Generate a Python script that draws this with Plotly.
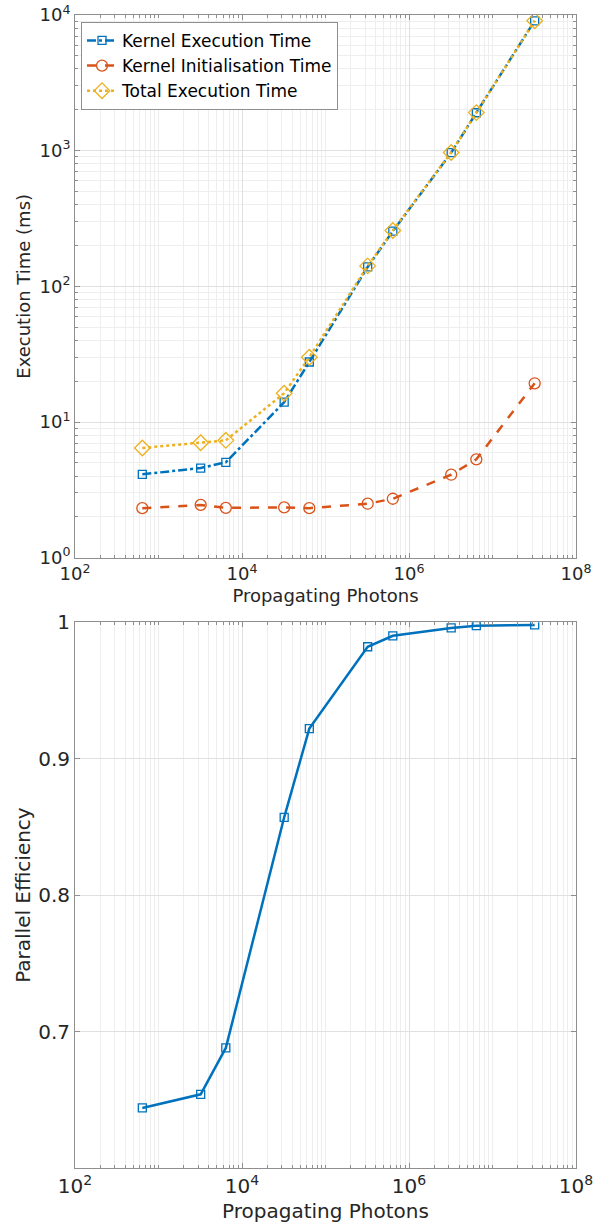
import plotly.graph_objects as go

# ---------------- data ----------------
photons = [640, 3200, 6400, 32000, 64000, 320000, 640000, 3200000, 6400000, 32000000]
kernel_exec_ms = [4.12, 4.58, 5.05, 14.0, 27.7, 139, 255, 966, 1903, 9060]
kernel_init_ms = [2.32, 2.45, 2.33, 2.35, 2.32, 2.50, 2.72, 4.09, 5.31, 19.3]
total_exec_ms = [6.44, 7.04, 7.33, 16.3, 30.0, 141.5, 258, 970, 1908, 9080]
parallel_eff = [0.644, 0.654, 0.688, 0.857, 0.922, 0.982, 0.990, 0.9958, 0.9974, 0.998]

x_major = [1e2, 1e4, 1e6, 1e8]
x_major_text = ["10<sup>2</sup>", "10<sup>4</sup>", "10<sup>6</sup>", "10<sup>8</sup>"]
y1_major = [1, 10, 100, 1000, 10000]
y1_major_text = ["10<sup>0</sup>", "10<sup>1</sup>", "10<sup>2</sup>", "10<sup>3</sup>", "10<sup>4</sup>"]
y2_major = [0.7, 0.8, 0.9, 1.0]
y2_major_text = ["0.7", "0.8", "0.9", "1"]

BLUE = "#0072BD"
ORANGE = "#D95319"
YELLOW = "#EDB120"
FONT = "DejaVu Sans"
TXT = "#262626"
AXC = "#8f8f8f"
GRID = "#e0e0e0"
MGRID = "#eeeeee"


def minor_vals(lo_exp, hi_exp):
    vals = []
    for e in range(lo_exp, hi_exp):
        for m in range(1, 10):
            vals.append(m * 10 ** e)
    vals.append(10 ** hi_exp)
    return vals


fig = go.Figure()

fig.add_trace(go.Scatter(
    x=photons, y=kernel_exec_ms, name="Kernel Execution Time",
    mode="lines+markers", xaxis="x", yaxis="y",
    line=dict(color=BLUE, width=2.5, dash="dashdot"),
    marker=dict(symbol="square-open", size=8, color=BLUE, line=dict(width=1.3)),
))
fig.add_trace(go.Scatter(
    x=photons, y=kernel_init_ms, name="Kernel Initialisation Time",
    mode="lines+markers", xaxis="x", yaxis="y",
    line=dict(color=ORANGE, width=2.5, dash="dash"),
    marker=dict(symbol="circle-open", size=11, color=ORANGE, line=dict(width=1.3)),
))
fig.add_trace(go.Scatter(
    x=photons, y=total_exec_ms, name="Total Execution Time",
    mode="lines+markers", xaxis="x", yaxis="y",
    line=dict(color=YELLOW, width=2.5, dash="dot"),
    marker=dict(symbol="diamond-open", size=12, color=YELLOW, line=dict(width=1.3)),
))
fig.add_trace(go.Scatter(
    x=photons, y=parallel_eff, name="Parallel Efficiency",
    mode="lines+markers", xaxis="x2", yaxis="y2", showlegend=False,
    line=dict(color=BLUE, width=2.5),
    marker=dict(symbol="square-open", size=8, color=BLUE, line=dict(width=1.3)),
))

common_axis = dict(
    showline=True, linecolor=AXC, linewidth=1, mirror="ticks",
    ticks="inside", ticklen=5, tickcolor=AXC, tickwidth=1,
    zeroline=False, showgrid=True, gridcolor=GRID, gridwidth=1,
    automargin=False, ticklabeloverflow="allow",
)

xlog_minor = dict(tickmode="array", tickvals=minor_vals(2, 8), ticks="inside",
                  ticklen=3, tickcolor=AXC, showgrid=True, gridcolor=MGRID, gridwidth=1)
ylog_minor = dict(tickmode="array", tickvals=minor_vals(0, 4), ticks="inside",
                  ticklen=3, tickcolor=AXC, showgrid=True, gridcolor=MGRID, gridwidth=1)

TOP_FS = 18
BOT_FS = 20

fig.update_layout(
    width=602, height=1229,
    margin=dict(l=75, r=26, t=15, b=61),
    paper_bgcolor="white", plot_bgcolor="white",
    font=dict(family=FONT, color=TXT),
    xaxis=dict(
        **common_axis, type="log", range=[2, 8], domain=[0, 1], anchor="y",
        tickmode="array", tickvals=x_major, ticktext=x_major_text,
        tickfont=dict(family=FONT, size=TOP_FS, color=TXT),
        minor=xlog_minor,
        title=dict(text="Propagating Photons", font=dict(family=FONT, size=TOP_FS, color=TXT), standoff=6),
    ),
    yaxis=dict(
        **common_axis, type="log", range=[0, 4], domain=[0.5293, 1.0], anchor="x",
        tickmode="array", tickvals=y1_major, ticktext=y1_major_text,
        tickfont=dict(family=FONT, size=TOP_FS, color=TXT),
        minor=ylog_minor,
        title=dict(text="Execution Time (ms)", font=dict(family=FONT, size=TOP_FS, color=TXT), standoff=4),
    ),
    xaxis2=dict(
        **common_axis, type="log", range=[2, 8], domain=[0, 1], anchor="y2",
        tickmode="array", tickvals=x_major, ticktext=x_major_text,
        tickfont=dict(family=FONT, size=BOT_FS, color=TXT),
        minor=xlog_minor,
        title=dict(text="Propagating Photons", font=dict(family=FONT, size=BOT_FS, color=TXT), standoff=6),
    ),
    yaxis2=dict(
        **common_axis, type="linear", range=[0.6, 1.0], domain=[0, 0.4734], anchor="x2",
        tickmode="array", tickvals=y2_major, ticktext=y2_major_text,
        tickfont=dict(family=FONT, size=BOT_FS, color=TXT),
        title=dict(text="Parallel Efficiency", font=dict(family=FONT, size=BOT_FS, color=TXT), standoff=2),
    ),
    legend=dict(
        x=0.012, y=0.994, xanchor="left", yanchor="top",
        bgcolor="white", bordercolor=AXC, borderwidth=1,
        font=dict(family=FONT, size=17, color="black"),
        tracegroupgap=0, itemwidth=30,
    ),
    showlegend=True,
)

fig.write_html(
    "out.html",
    config={"displayModeBar": False},
    post_script="document.body.style.margin='0';document.body.style.padding='0';",
)
